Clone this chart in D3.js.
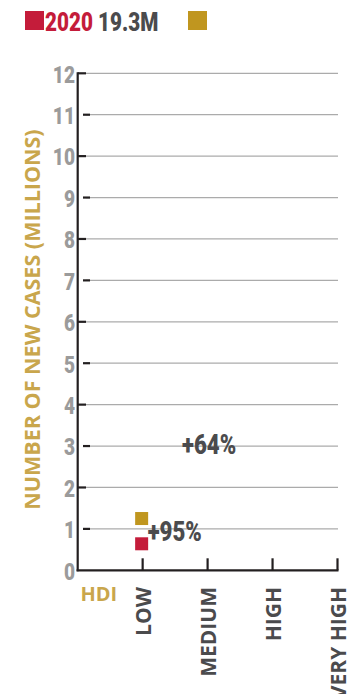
<!DOCTYPE html>
<html>
<head>
<meta charset="utf-8">
<script src="https://cdn.jsdelivr.net/npm/d3@7"></script>
<style>
  html, body { margin: 0; padding: 0; background: #fff; }
  svg { display: block; }
  .narrow { font-family: Roboto, "Liberation Sans", sans-serif; font-weight: 900; }
  .wide { font-family: "Open Sans", "Noto Sans", sans-serif; font-weight: bold; }
</style>
</head>
<body>
<script>
// HDI groups (first slot is the empty origin column)
const categories = ["", "LOW", "MEDIUM", "HIGH", "VERY HIGH"];
// New cases in millions, per HDI group
const cases2020 = [{ cat: "LOW", value: 0.64 }];
const casesLater = [{ cat: "LOW", value: 1.25 }];
// Percentage change labels
const changeLabels = [
  { cat: "LOW", value: 0.95, text: "+95%" },
  { cat: "MEDIUM", value: 3.06, text: "+64%" }
];
const yTicks = [0, 1, 2, 3, 4, 5, 6, 7, 8, 9, 10, 11, 12];
const legendYear = "2020";
const legendTotal = "19.3M";

const W = 354, H = 694;
const RED = "#c41c3a", GOLD = "#c0961f", TITLE_GOLD = "#c9a64c";
const DARK = "#4b4b4d", GREY = "#9b9b9b", AXIS = "#231f20";
const SQUEEZE = 0.78; // horizontal compression for the condensed figures

const svg = d3.select("body").append("svg").attr("width", W).attr("height", H);

const x = d3.scalePoint().domain(categories).range([77.7, 337.5]);
const y = d3.scaleLinear().domain([0, 12]).range([570.3, 73.3]);

// condensed text placed at (px, py)
function narrowText(g, px, py, size, fill, str) {
  return g.append("text").attr("class", "narrow")
    .attr("transform", `translate(${px},${py}) scale(${SQUEEZE},1)`)
    .attr("font-size", size).attr("fill", fill).text(str);
}

// Legend
const legend = svg.append("g");
legend.append("rect").attr("x", 25).attr("y", 11).attr("width", 19).attr("height", 19).attr("fill", RED);
narrowText(legend, 45, 30.5, 26.5, RED, legendYear);
narrowText(legend, 98, 30.5, 26.5, DARK, legendTotal);
legend.append("rect").attr("x", 188).attr("y", 11).attr("width", 19).attr("height", 19).attr("fill", GOLD);

// Gridlines
svg.append("g").selectAll("line").data(yTicks.filter(d => d > 0)).join("line")
  .attr("x1", 86).attr("x2", 338)
  .attr("y1", d => y(d)).attr("y2", d => y(d))
  .attr("stroke", "#ababab").attr("stroke-width", 1.2);

// Y ticks: even values attached to the axis, odd values as short dashes
svg.append("g").selectAll("line").data(yTicks.filter(d => d > 0)).join("line")
  .attr("x1", d => d % 2 === 0 ? 77.7 : 83)
  .attr("x2", d => d % 2 === 0 ? 86 : 90)
  .attr("y1", d => y(d)).attr("y2", d => y(d))
  .attr("stroke", AXIS).attr("stroke-width", 2.2);

// Y axis labels
const yAxis = d3.axisLeft(y).tickValues(yTicks).tickSize(0).tickPadding(0).tickFormat(d3.format("d"));
const gy = svg.append("g").attr("transform", "translate(75,0)").call(yAxis);
gy.select(".domain").remove();
gy.selectAll("text").attr("class", "narrow").attr("font-size", 24.5).attr("fill", GREY)
  .attr("x", 0).attr("dy", "0.36em").attr("transform", `scale(${SQUEEZE},1)`);

// Axis lines
svg.append("line").attr("x1", 77.7).attr("x2", 77.7).attr("y1", y(12) - 1).attr("y2", y(0) + 1)
  .attr("stroke", AXIS).attr("stroke-width", 2.2);
svg.append("line").attr("x1", 76.6).attr("x2", 338.5).attr("y1", y(0)).attr("y2", y(0))
  .attr("stroke", AXIS).attr("stroke-width", 2.2);

// X ticks pointing up into the plot
svg.append("g").selectAll("line").data(categories.slice(1)).join("line")
  .attr("x1", d => x(d)).attr("x2", d => x(d))
  .attr("y1", y(0)).attr("y2", y(0) - 12)
  .attr("stroke", AXIS).attr("stroke-width", 2.2);

// X labels (rotated)
svg.append("g").selectAll("text").data(categories.slice(1)).join("text")
  .attr("class", "wide")
  .attr("transform", d => `translate(${x(d) + 8},587) rotate(-90)`)
  .attr("text-anchor", "end").attr("font-size", 21).attr("fill", DARK)
  .text(d => d);

svg.append("text").attr("class", "wide").attr("x", 80.5).attr("y", 601)
  .attr("font-size", 20).attr("fill", TITLE_GOLD).text("HDI");

// Y axis title
svg.append("text").attr("class", "wide")
  .attr("transform", "translate(39.5,319.5) rotate(-90)")
  .attr("text-anchor", "middle").attr("font-size", 21.5).attr("fill", TITLE_GOLD)
  .text("NUMBER OF NEW CASES (MILLIONS)");

// Data marks
const S = 13;
svg.append("g").selectAll("rect").data(casesLater).join("rect")
  .attr("x", d => x(d.cat) - S / 2 - 1).attr("y", d => y(d.value) - S / 2)
  .attr("width", S).attr("height", S).attr("fill", GOLD);
svg.append("g").selectAll("rect").data(cases2020).join("rect")
  .attr("x", d => x(d.cat) - S / 2 - 1).attr("y", d => y(d.value) - S / 2)
  .attr("width", S).attr("height", S).attr("fill", RED);

// Change labels
const labelShift = { LOW: 5, MEDIUM: -25.5 };
const lg = svg.append("g");
changeLabels.forEach(d => {
  narrowText(lg, x(d.cat) + labelShift[d.cat], y(d.value) + 10.5, 28.5, DARK, d.text);
});
</script>
</body>
</html>
